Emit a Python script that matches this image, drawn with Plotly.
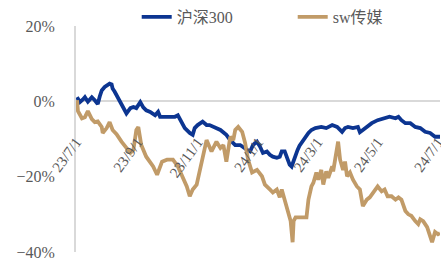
import plotly.graph_objects as go

# 沪深300 (relative return, %)
hs300_dates = ["2023-07-02","2023-07-05","2023-07-08","2023-07-10","2023-07-13","2023-07-17","2023-07-20","2023-07-23",
    "2023-07-25","2023-07-27","2023-07-30","2023-08-02","2023-08-04","2023-08-06","2023-08-07","2023-08-09","2023-08-11",
    "2023-08-14","2023-08-18","2023-08-21","2023-08-25","2023-08-28","2023-08-31","2023-09-04","2023-09-07","2023-09-10",
    "2023-09-14","2023-09-19","2023-09-22","2023-09-24","2023-09-29","2023-10-04","2023-10-09","2023-10-12","2023-10-16",
    "2023-10-19","2023-10-24","2023-10-27","2023-10-29","2023-11-01","2023-11-06","2023-11-10","2023-11-13","2023-11-19",
    "2023-11-24","2023-11-30","2023-12-04","2023-12-09","2023-12-14","2023-12-21","2023-12-24","2023-12-27","2023-12-31",
    "2024-01-03","2024-01-06","2024-01-10","2024-01-13","2024-01-16","2024-01-20","2024-01-23","2024-01-25","2024-01-28",
    "2024-01-30","2024-02-02","2024-02-04","2024-02-07","2024-02-10","2024-02-12","2024-02-18","2024-02-21","2024-02-24",
    "2024-02-28","2024-03-05","2024-03-10","2024-03-16","2024-03-21","2024-03-26","2024-03-29","2024-04-01","2024-04-06",
    "2024-04-11","2024-04-13","2024-04-16","2024-04-20","2024-04-25","2024-05-01","2024-05-08","2024-05-13","2024-05-19",
    "2024-05-22","2024-05-25","2024-05-29","2024-06-03","2024-06-08","2024-06-13","2024-06-18","2024-06-23","2024-06-28",
    "2024-07-03"]
hs300_values = [1.1,-0.2,0.5,1.1,-0.1,1.1,0.3,-0.7,
    1.3,2.9,3.8,4.2,4.7,4.5,3.4,2.6,1.6,
    -0.2,-1.8,-3.2,-1.8,-1.5,-1.8,-0.2,-1.6,-2.4,
    -2.8,-3.7,-2.8,-4.1,-4.1,-4.1,-4.1,-3.7,-5.5,
    -7.1,-8.4,-8.9,-7.1,-6.3,-5.4,-6.3,-6.3,-7.1,
    -7.6,-8.9,-10.3,-11.6,-11.6,-12.9,-13.3,-11.6,-10.7,
    -12.0,-13.7,-13.3,-14.2,-14.7,-15.0,-14.7,-13.3,-13.3,
    -14.7,-16.8,-17.3,-14.7,-12.9,-11.8,-9.4,-8.4,-7.6,
    -7.1,-6.8,-7.1,-6.3,-6.8,-8.1,-7.1,-6.8,-7.1,
    -6.8,-8.2,-7.6,-6.8,-5.8,-5.0,-4.5,-4.1,-4.5,
    -4.1,-5.0,-5.8,-5.8,-6.8,-7.1,-8.1,-8.4,-9.4,
    -9.4]

# sw传媒 (relative return, %)
media_dates = ["2023-07-02","2023-07-03","2023-07-07","2023-07-10","2023-07-13","2023-07-17","2023-07-20","2023-07-23",
    "2023-07-27","2023-07-28","2023-08-01","2023-08-04","2023-08-07","2023-08-11","2023-08-16","2023-08-21","2023-08-25",
    "2023-08-28","2023-08-31","2023-09-02","2023-09-05","2023-09-10","2023-09-14","2023-09-17","2023-09-21","2023-09-26",
    "2023-10-01","2023-10-07","2023-10-12","2023-10-16","2023-10-21","2023-10-24","2023-10-27","2023-10-31","2023-11-03",
    "2023-11-06","2023-11-10","2023-11-15","2023-11-20","2023-11-24","2023-11-27","2023-11-30","2023-12-04","2023-12-07",
    "2023-12-09","2023-12-12","2023-12-16","2023-12-19","2023-12-22","2023-12-26","2023-12-31","2024-01-05","2024-01-08",
    "2024-01-13","2024-01-16","2024-01-20","2024-01-23","2024-01-25","2024-01-28","2024-01-31","2024-02-03","2024-02-05",
    "2024-02-06","2024-02-08","2024-02-12","2024-02-19","2024-02-21","2024-02-24","2024-02-26","2024-02-29","2024-03-02",
    "2024-03-05","2024-03-07","2024-03-10","2024-03-12","2024-03-16","2024-03-17","2024-03-19","2024-03-22","2024-03-24",
    "2024-03-27","2024-03-29","2024-03-31","2024-04-03","2024-04-06","2024-04-10","2024-04-13","2024-04-16","2024-04-20",
    "2024-04-23","2024-04-28","2024-05-01","2024-05-05","2024-05-08","2024-05-11","2024-05-15","2024-05-19","2024-05-22",
    "2024-05-25","2024-05-29","2024-06-01","2024-06-04","2024-06-08","2024-06-11","2024-06-13","2024-06-16","2024-06-20",
    "2024-06-23","2024-06-25","2024-06-28","2024-07-01","2024-07-03"]
media_values = [0.3,-2.6,-4.5,-4.2,-2.6,-4.7,-5.5,-5.3,
    -6.8,-8.4,-7.1,-5.5,-7.6,-8.7,-10.7,-12.4,-13.7,
    -12.9,-7.6,-6.8,-11.6,-14.7,-16.3,-17.3,-19.5,-16.0,
    -15.5,-15.5,-17.3,-19.5,-22.6,-25.2,-23.4,-22.1,-18.6,
    -14.7,-10.3,-13.3,-10.7,-12.4,-11.6,-16.0,-9.4,-10.3,
    -7.6,-6.8,-8.1,-11.1,-15.5,-18.9,-18.2,-19.9,-22.1,
    -23.4,-24.2,-23.4,-25.5,-23.4,-26.1,-29.1,-31.8,-37.4,
    -31.8,-30.8,-30.8,-30.8,-26.1,-22.6,-21.6,-18.9,-20.8,
    -18.2,-22.1,-18.6,-20.3,-17.3,-18.6,-14.7,-10.7,-15.5,
    -18.2,-16.0,-19.9,-18.9,-20.8,-22.6,-23.4,-27.8,-26.1,
    -25.5,-23.4,-22.6,-23.9,-23.4,-25.2,-25.2,-26.1,-25.5,
    -26.1,-29.1,-30.0,-30.4,-31.8,-32.6,-31.3,-31.8,-33.4,
    -35.7,-37.4,-34.7,-35.3,-35.0]

tick_dates = ["2023-07-01","2023-09-01","2023-11-01","2024-01-01","2024-03-01","2024-05-01","2024-07-01"]
tick_labels = ["23/7/1","23/9/1","23/11/1","24/1/1","24/3/1","24/5/1","24/7/1"]
y_ticks = [-0.4, -0.2, 0.0, 0.2]

FONT = "Times New Roman, Liberation Serif, Noto Sans CJK SC, serif"
GRAY = "#595959"

fig = go.Figure()
fig.add_trace(go.Scatter(x=hs300_dates, y=[v / 100 for v in hs300_values], name="沪深300",
                         mode="lines", line=dict(color="#0C3591", width=3.8)))
fig.add_trace(go.Scatter(x=media_dates, y=[v / 100 for v in media_values], name="sw传媒",
                         mode="lines", line=dict(color="#C19B68", width=3.8)))

fig.update_layout(
    width=441, height=262,
    margin=dict(l=76, r=1, t=26, b=10, autoexpand=False),
    paper_bgcolor="white", plot_bgcolor="white",
    font=dict(family=FONT, color=GRAY, size=16),
    showlegend=True,
    legend=dict(orientation="h", x=0.31, xanchor="left", y=1.0, yanchor="top",
                xref="container", yref="container",
                font=dict(family=FONT, size=16, color=GRAY), bgcolor="rgba(0,0,0,0)",
                entrywidth=111, entrywidthmode="pixels"),
    xaxis=dict(type="date", range=["2023-07-01", "2024-07-03"], automargin=False,
               tickvals=tick_dates, ticktext=tick_labels, tickangle=-54,
               tickfont=dict(family=FONT, size=15, color=GRAY), ticklabeloverflow="allow",
               showgrid=False, zeroline=False, showline=False,
               ticks="outside", ticklen=25, tickcolor="rgba(0,0,0,0)",
               anchor="free", position=0.4 / 0.6),
    yaxis=dict(range=[-0.4, 0.2], tickvals=y_ticks, tickformat=".0%", automargin=False,
               tickfont=dict(family=FONT, size=16, color=GRAY),
               showgrid=False, zeroline=True, zerolinecolor="#d9d9d9", zerolinewidth=2,
               showline=True, linecolor="#d9d9d9", linewidth=2,
               ticks="outside", ticklen=16, tickcolor="rgba(0,0,0,0)"),
)

fig.write_html("out.html", config={"displayModeBar": False},
               post_script="document.body.style.margin='0';document.body.style.padding='0';"
                           "document.body.style.overflow='hidden';")
